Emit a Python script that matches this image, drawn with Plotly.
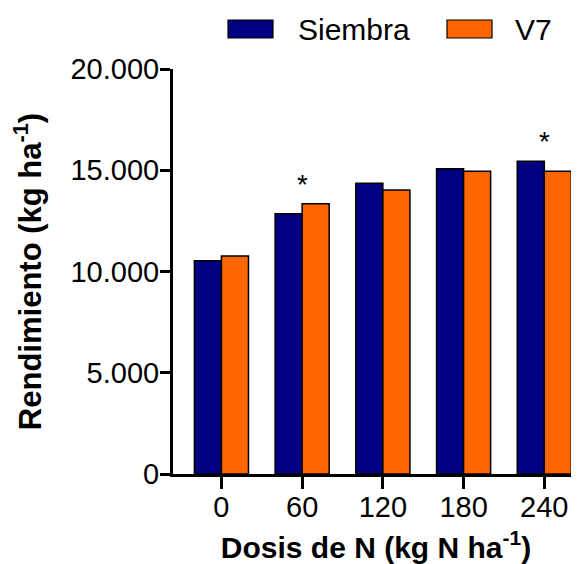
import plotly.graph_objects as go

# datos
dosis = ["0", "60", "120", "180", "240"]
siembra = [10530, 12850, 14360, 15070, 15450]
v7 = [10760, 13350, 14030, 14950, 14950]
significativo = ["60", "240"]

AZUL = "#000080"
NARANJA = "#FF6600"
FUENTE = "Liberation Sans, Arial, sans-serif"

fig = go.Figure()

fig.add_trace(go.Bar(
    x=dosis, y=siembra, name="Siembra",
    marker=dict(color=AZUL, line=dict(color="black", width=1.5))
))
fig.add_trace(go.Bar(
    x=dosis, y=v7, name="V7",
    marker=dict(color=NARANJA, line=dict(color="black", width=1.5))
))

# asteriscos de significancia (eje categorico -> posicion por indice)
for d in significativo:
    i = dosis.index(d)
    fig.add_annotation(
        x=i, y=max(siembra[i], v7[i]), text="*",
        showarrow=False, yanchor="bottom", yshift=2,
        font=dict(size=28, color="black", family=FUENTE)
    )

# leyenda dibujada a mano (cajas rectangulares como en el original)
def px_x(p):
    return (p - 173) / 406

def px_y(p):
    return (474 - p) / 405

for x0, x1, col, label, tx in [(228, 273, AZUL, "Siembra", 296),
                               (447, 492, NARANJA, "V7", 513)]:
    fig.add_shape(type="rect", xref="paper", yref="paper",
                  x0=px_x(x0), x1=px_x(x1), y0=px_y(38), y1=px_y(20),
                  fillcolor=col, line=dict(color="black", width=1.2))
    fig.add_annotation(xref="paper", yref="paper", x=px_x(tx), y=px_y(29),
                       text=label, showarrow=False, xanchor="left", yanchor="middle",
                       font=dict(size=30, color="black", family=FUENTE))

# la pagina tiene 8 px de margen en el body: se descuenta del tamano
fig.update_layout(
    width=571, height=556,
    margin=dict(l=165, r=0, t=61, b=90),
    barmode="group", bargap=0.33, bargroupgap=0,
    showlegend=False,
    plot_bgcolor="white", paper_bgcolor="white",
    separators=",.",
    font=dict(family=FUENTE, size=29, color="black"),
)

fig.update_xaxes(
    type="category",
    range=[-0.6, 4.43],
    showline=True, linecolor="black", linewidth=3,
    ticks="outside", ticklen=12, tickwidth=3, tickcolor="black",
    ticklabelstandoff=-7,
    showgrid=False, zeroline=False,
    tickfont=dict(size=29),
    title=dict(text="<b>Dosis de N (kg N ha<sup>-1</sup>)</b>", font=dict(size=30), standoff=16),
)
fig.update_yaxes(
    range=[0, 20000], dtick=5000, tickformat=",d",
    showline=True, linecolor="black", linewidth=3,
    ticks="outside", ticklen=10, tickwidth=3, tickcolor="black",
    ticklabelstandoff=-5,
    showgrid=False, zeroline=False,
    tickfont=dict(size=29),
    title=dict(text="<b>Rendimiento (kg ha<sup>-1</sup>)</b>", font=dict(size=31), standoff=29),
)

fig.write_html("out.html")
